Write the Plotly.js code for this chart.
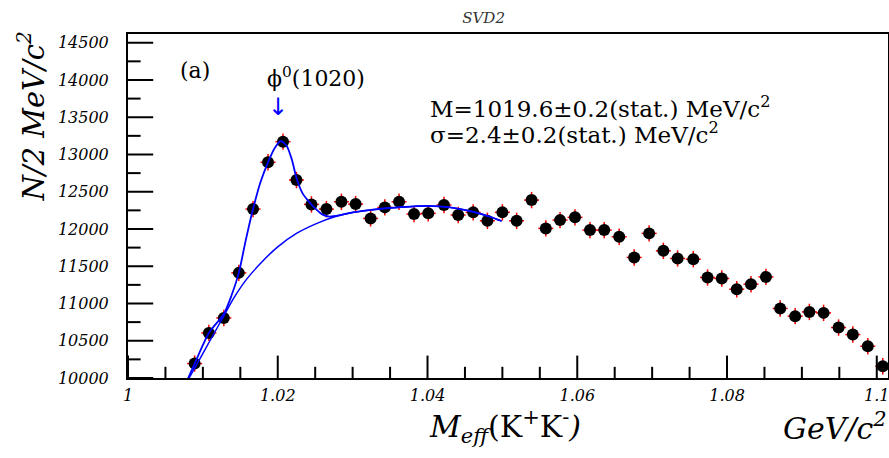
<!DOCTYPE html>
<html>
<head>
<meta charset="utf-8">
<script src="https://cdn.plot.ly/plotly-3.0.1.min.js"></script>
<style>html,body{margin:0;padding:0;background:#fff;}#chart{width:889px;height:458px;}</style>
</head>
<body>
<div id="chart"></div>
<script>
// ---- data ----
const massGeV = [1.0089, 1.0108, 1.0128, 1.0148, 1.0167, 1.0187, 1.0207, 1.0225, 1.0245, 1.0265,
  1.0285, 1.0304, 1.0324, 1.0343, 1.0362, 1.0382, 1.0401, 1.0422, 1.0441, 1.0461,
  1.0480, 1.0500, 1.0519, 1.0539, 1.0558, 1.0577, 1.0597, 1.0617, 1.0636, 1.0656,
  1.0676, 1.0696, 1.0715, 1.0734, 1.0755, 1.0774, 1.0793, 1.0813, 1.0832, 1.0852,
  1.0871, 1.0891, 1.0910, 1.0929, 1.0949, 1.0968, 1.0988, 1.1008];
const counts = [10194, 10605, 10806, 11411, 12267, 12895, 13172, 12657, 12330, 12267,
  12365, 12334, 12142, 12290, 12365, 12200, 12210, 12321, 12187, 12223,
  12110, 12223, 12110, 12388, 12008, 12119, 12156, 11985, 11985, 11895,
  11618, 11941, 11707, 11605, 11595, 11349, 11336, 11192, 11259, 11357,
  10933, 10830, 10887, 10874, 10677, 10583, 10426, 10157];
const countErr = 110;      // statistical error (per bin)
const massHalfBin = 0.001; // half bin width (GeV)

// fit: signal + background
const fitX = [1.0076, 1.0089, 1.0108, 1.0128, 1.0138, 1.0148, 1.0157, 1.0167, 1.0177, 1.0187,
  1.0196, 1.0204, 1.0212, 1.0219, 1.0225, 1.0233, 1.0241, 1.0251, 1.0260, 1.0269,
  1.0285, 1.0300, 1.0330, 1.0365, 1.0400, 1.0430, 1.0457, 1.0483, 1.0499];
const fitY = [9900, 10194, 10605, 10860, 11100, 11411, 11837, 12267, 12630, 12895,
  13087, 13181, 13114, 12926, 12684, 12482, 12375, 12267, 12193, 12166,
  12190, 12222, 12264, 12293, 12309, 12291, 12241, 12167, 12107];
// fit: background only
const bgX = [1.0076, 1.0090, 1.0110, 1.0128, 1.0142, 1.0158, 1.0180, 1.0200, 1.0225, 1.0250,
  1.0275, 1.0300, 1.0330, 1.0365, 1.0400, 1.0430, 1.0457, 1.0483, 1.0499];
const bgY = [9900, 10150, 10510, 10833, 11085, 11320, 11570, 11760, 11940, 12065,
  12160, 12220, 12262, 12292, 12308, 12290, 12240, 12166, 12106];

const xTickVals = [1, 1.02, 1.04, 1.06, 1.08, 1.1];
const xTickText = ['1', '1.02', '1.04', '1.06', '1.08', '1.1'];
const xMinorVals = [1.005, 1.01, 1.015, 1.025, 1.03, 1.035, 1.045, 1.05, 1.055,
  1.065, 1.07, 1.075, 1.085, 1.09, 1.095];
const yTickVals = [10000, 10500, 11000, 11500, 12000, 12500, 13000, 13500, 14000, 14500];
const yTickText = ['10000', '10500', '11000', '11500', '12000', '12500', '13000', '13500', '14000', '14500'];
const yMinorVals = [10250, 10750, 11250, 11750, 12250, 12750, 13250, 13750, 14250];

// ---- drawing ----
const SERIF = 'DejaVu Serif';
const X_RANGE = [1, 1.1015];
const Y_RANGE = [10000, 14617];

// inside tick marks: a marker centred on the axis line, the outer half is clipped by the plot area
function tickMarks(vals, onX, len) {
  return {
    type: 'scatter', mode: 'markers', cliponaxis: true,
    x: onX ? vals : vals.map(() => X_RANGE[0]),
    y: onX ? vals.map(() => Y_RANGE[0]) : vals,
    marker: {symbol: onX ? 'line-ns' : 'line-ew', size: 2 * len, color: '#000',
             line: {color: '#000', width: 2}},
    showlegend: false, hoverinfo: 'skip'
  };
}

const traces = [
  {
    x: massGeV, y: counts, type: 'scatter', mode: 'markers',
    marker: {color: '#000', size: 12, symbol: 'circle'},
    error_y: {type: 'constant', value: countErr, color: '#ff0000', thickness: 1.5, width: 0},
    error_x: {type: 'constant', value: massHalfBin, color: '#ff0000', thickness: 1.5, width: 0},
    showlegend: false, hoverinfo: 'skip'
  },
  {
    x: bgX, y: bgY, type: 'scatter', mode: 'lines',
    line: {color: '#0000ff', width: 1.5, shape: 'spline', smoothing: 0.8},
    showlegend: false, hoverinfo: 'skip'
  },
  {
    x: fitX, y: fitY, type: 'scatter', mode: 'lines',
    line: {color: '#0000ff', width: 1.8, shape: 'spline', smoothing: 0.7},
    showlegend: false, hoverinfo: 'skip'
  },
  tickMarks(xTickVals, true, 16),
  tickMarks(xMinorVals, true, 8),
  tickMarks(yTickVals, false, 18),
  tickMarks(yMinorVals, false, 9)
];

const layout = {
  width: 889, height: 458,
  margin: {l: 128, r: 1, t: 34, b: 80},
  paper_bgcolor: '#fff', plot_bgcolor: '#fff',
  title: {text: '<i>SVD2</i>', font: {family: SERIF, size: 15, color: '#333'},
          x: 0.544, xanchor: 'center', y: 0.961, yanchor: 'middle'},
  xaxis: {
    range: X_RANGE, tickmode: 'array', tickvals: xTickVals, ticktext: xTickText,
    showline: true, linecolor: '#000', linewidth: 2, mirror: true,
    showgrid: false, zeroline: false,
    ticks: 'outside', ticklen: 2, tickcolor: 'rgba(0,0,0,0)',
    ticklabeloverflow: 'allow',
    tickfont: {family: SERIF, size: 16, style: 'italic', color: '#000'}
  },
  yaxis: {
    range: Y_RANGE, tickmode: 'array', tickvals: yTickVals, ticktext: yTickText,
    showline: true, linecolor: '#000', linewidth: 2, mirror: true,
    showgrid: false, zeroline: false,
    ticks: 'outside', ticklen: 14, tickcolor: 'rgba(0,0,0,0)',
    ticklabeloverflow: 'allow',
    tickfont: {family: SERIF, size: 16, style: 'italic', color: '#000'}
  },
  annotations: [
    {text: '(a)', xref: 'paper', yref: 'paper', x: 0.0875, y: 0.8953, xanchor: 'center', yanchor: 'middle',
     showarrow: false, font: {family: SERIF, size: 22, color: '#000'}},
    {text: 'ϕ<sup>0</sup>(1020)', xref: 'paper', yref: 'paper', x: 0.2474, y: 0.875, xanchor: 'center', yanchor: 'middle',
     showarrow: false, font: {family: SERIF, size: 22, color: '#000'}},
    {text: '↓', xref: 'paper', yref: 'paper', x: 0.1974, y: 0.7878, xanchor: 'center', yanchor: 'middle',
     showarrow: false, font: {family: 'DejaVu Sans', size: 24, color: '#0000ff'}},
    {text: 'M=1019.6±0.2(stat.) MeV/c<sup>2</sup>', xref: 'paper', yref: 'paper', x: 0.3947, y: 0.7878,
     xanchor: 'left', yanchor: 'middle', showarrow: false, font: {family: SERIF, size: 23, color: '#000'}},
    {text: 'σ=2.4±0.2(stat.) MeV/c<sup>2</sup>', xref: 'paper', yref: 'paper', x: 0.3947, y: 0.7122,
     xanchor: 'left', yanchor: 'middle', showarrow: false, font: {family: SERIF, size: 23, color: '#000'}},
    {text: '<i>N/2 MeV/c<sup>2</sup></i>', xref: 'paper', yref: 'paper', x: -0.1276, y: 0.76, textangle: -90,
     xanchor: 'center', yanchor: 'middle', showarrow: false, font: {family: SERIF, size: 29, color: '#000'}},
    {text: '<i>M</i><sub><i>eff</i></sub>(K<sup>+</sup>K<sup>-</sup><i>)</i>', xref: 'paper', yref: 'paper', x: 0.3934, y: -0.14,
     xanchor: 'left', yanchor: 'middle', showarrow: false, font: {family: SERIF, size: 30, color: '#000'}},
    {text: '<i>GeV/c<sup>2</sup></i>', xref: 'paper', yref: 'paper', x: 1.0013, y: -0.14,
     xanchor: 'right', yanchor: 'middle', showarrow: false, font: {family: SERIF, size: 30, color: '#000'}}
  ]
};

Plotly.newPlot('chart', traces, layout, {staticPlot: true, displayModeBar: false});
</script>
</body>
</html>
